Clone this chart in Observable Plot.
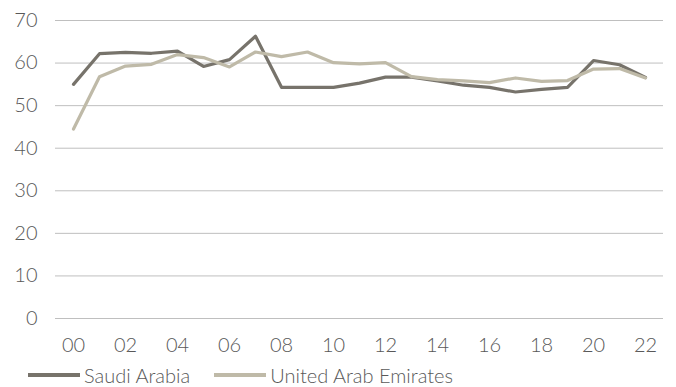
<!DOCTYPE html>
<html>
<head>
<meta charset="utf-8">
<script src="https://cdn.jsdelivr.net/npm/d3@7"></script>
<script src="https://cdn.jsdelivr.net/npm/@observablehq/plot@0.6"></script>
<style>
  html, body { margin: 0; padding: 0; background: #fff; }
  body { width: 676px; height: 387px; overflow: hidden; font-family: Lato, sans-serif; font-weight: 300; }
  #chart svg { display: block; }
  #legend { box-sizing: border-box; display: flex; align-items: center; height: 27px; padding-top: 3px; font-size: 20px; color: #595959; padding-left: 28px; line-height: 24px; }
  #legend .item { display: flex; align-items: center; }
  #legend .sw { display: inline-block; width: 52px; height: 3.5px; margin-right: 4px; }
</style>
</head>
<body>
<div id="chart"></div>
<div id="legend"></div>
<script>
const years = ["00","01","02","03","04","05","06","07","08","09","10","11","12","13","14","15","16","17","18","19","20","21","22"];
const tickLabels = ["00","02","04","06","08","10","12","14","16","18","20","22"];
const yTicks = [0,10,20,30,40,50,60,70];
const seriesNames = ["Saudi Arabia", "United Arab Emirates"];
const saudi = [55.0,62.2,62.5,62.3,62.8,59.2,60.8,66.3,54.3,54.3,54.3,55.3,56.7,56.7,55.8,54.8,54.3,53.2,53.8,54.3,60.6,59.6,56.6];
const uae   = [44.5,56.8,59.3,59.7,62.0,61.3,59.1,62.6,61.5,62.6,60.1,59.8,60.1,56.8,56.1,55.8,55.4,56.5,55.7,55.9,58.6,58.7,56.5];
const colors = ["#77736b", "#bfbaa8"];

const rows = [];
[saudi, uae].forEach((vals, si) => vals.forEach((v, i) => rows.push({year: years[i], value: v, series: seriesNames[si]})));

const chart = Plot.plot({
  width: 676,
  height: 360,
  marginLeft: 55,
  marginRight: 13,
  marginTop: 20,
  marginBottom: 42,
  style: {fontFamily: "Lato, sans-serif", fontWeight: 300, fontSize: "20px", color: "#595959", background: "#fff"},
  x: {type: "point", domain: years, padding: 0.5, ticks: tickLabels, tickSize: 0, tickPadding: 19, label: null},
  y: {domain: [0, 70], ticks: yTicks, tickSize: 0, tickPadding: 18, label: null},
  color: {domain: seriesNames, range: colors},
  marks: [
    Plot.ruleY(yTicks, {stroke: "#bfbfbf", strokeWidth: 1}),
    Plot.line(rows, {x: "year", y: "value", z: "series", stroke: "series", strokeWidth: 3.2, curve: "linear"})
  ]
});
document.getElementById("chart").appendChild(chart);

const legend = document.getElementById("legend");
seriesNames.forEach((n, i) => {
  const it = document.createElement("div");
  it.className = "item";
  if (i > 0) it.style.marginLeft = "24px";
  const sw = document.createElement("span");
  sw.className = "sw";
  sw.style.background = colors[i];
  it.appendChild(sw);
  const tx = document.createElement("span");
  tx.textContent = n;
  it.appendChild(tx);
  legend.appendChild(it);
});
</script>
</body>
</html>
